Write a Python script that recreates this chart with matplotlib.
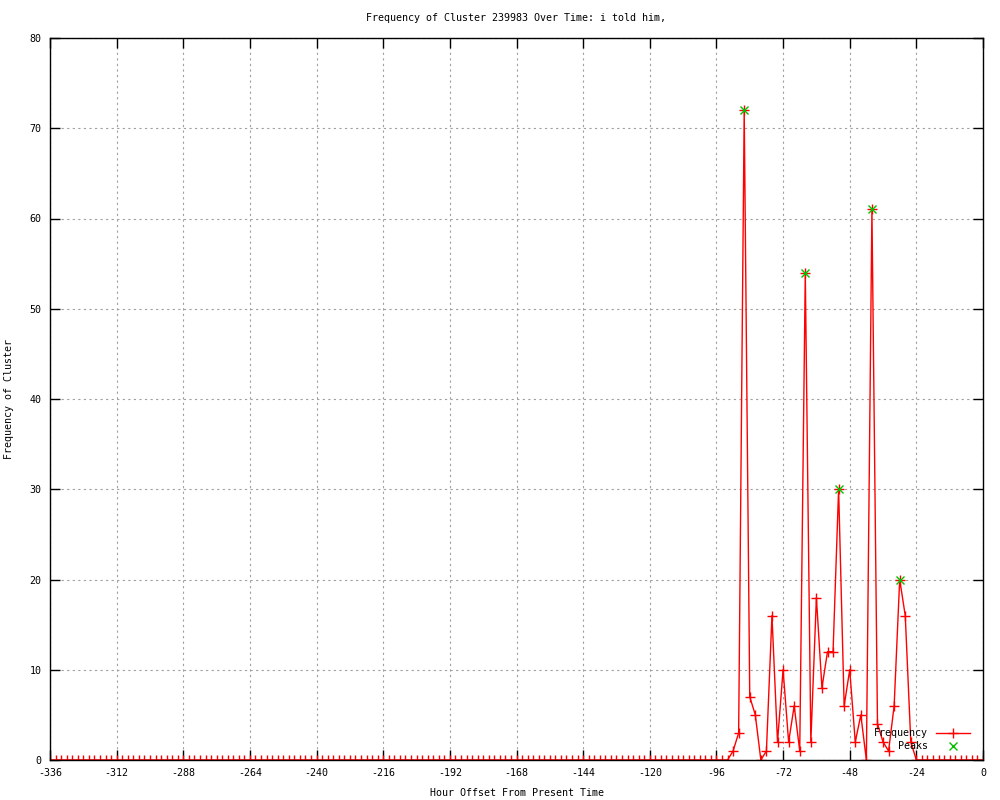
import numpy as np
import matplotlib
matplotlib.use('Agg')
import matplotlib.pyplot as plt
from matplotlib.ticker import MultipleLocator

plt.rcParams['font.family'] = ['DejaVu Sans Mono']
plt.rcParams['axes.unicode_minus'] = False

# hour offsets, one sample every 2 hours
hours = np.arange(-336, 1, 2)
freq = [
  0, 0, 0, 0, 0, 0, 0, 0, 0, 0, 0, 0, 0, 0, 0, 0, 0, 0, 0, 0, 0, 0, 0, 0,   # -336 .. -290
  0, 0, 0, 0, 0, 0, 0, 0, 0, 0, 0, 0, 0, 0, 0, 0, 0, 0, 0, 0, 0, 0, 0, 0,   # -288 .. -242
  0, 0, 0, 0, 0, 0, 0, 0, 0, 0, 0, 0, 0, 0, 0, 0, 0, 0, 0, 0, 0, 0, 0, 0,   # -240 .. -194
  0, 0, 0, 0, 0, 0, 0, 0, 0, 0, 0, 0, 0, 0, 0, 0, 0, 0, 0, 0, 0, 0, 0, 0,   # -192 .. -146
  0, 0, 0, 0, 0, 0, 0, 0, 0, 0, 0, 0, 0, 0, 0, 0, 0, 0, 0, 0, 0, 0, 0, 0,   # -144 .. -98
  0, 0, 0,                                                                  # -96 .. -92
  1, 3, 72, 7, 5, 0, 1, 16, 2, 10, 2, 6, 1, 54, 2, 18, 8, 12, 12, 30,       # -90 .. -52
  6, 10, 2, 5, 0, 61, 4, 2, 1, 6, 20, 16, 2,                                # -50 .. -26
  0, 0, 0, 0, 0, 0, 0, 0, 0, 0, 0, 0, 0,                                    # -24 .. 0
]
peak_hours = [-86, -64, -52, -40, -30]
peak_vals = [72, 54, 30, 61, 20]

fs = 7.2
fig = plt.figure(figsize=(10, 8), dpi=100)
ax = fig.add_axes([0.05, 0.05, 0.933, 0.9025])

ax.plot(hours, freq, color='red', lw=1, marker='+', ms=7, mew=1, label='Frequency')
ax.plot(peak_hours, peak_vals, ls='none', color='#00c000', marker='x', ms=6, mew=1, label='Peaks')

ax.set_xlim(-336, 0)
ax.set_ylim(0, 80)
ax.xaxis.set_major_locator(MultipleLocator(24))
ax.yaxis.set_major_locator(MultipleLocator(10))
ax.tick_params(direction='in', length=7, width=1, top=True, right=True, labelsize=fs, pad=6)
ax.grid(True, color='#a0a0a0', ls=(0, (2, 3)), lw=0.8)
for s in ax.spines.values():
  s.set_linewidth(1)

ax.set_title('Frequency of Cluster 239983 Over Time: i told him,', fontsize=fs, pad=12)
ax.set_xlabel('Hour Offset From Present Time', fontsize=fs, labelpad=7)
ax.set_ylabel('Frequency of Cluster', fontsize=fs, labelpad=11)

ax.legend(loc='lower right', bbox_to_anchor=(0.996, 0.0), frameon=False, markerfirst=False,
          fontsize=fs, handlelength=3.4, handletextpad=0.8, labelspacing=0.25)

fig.savefig('out.png', dpi=100)
